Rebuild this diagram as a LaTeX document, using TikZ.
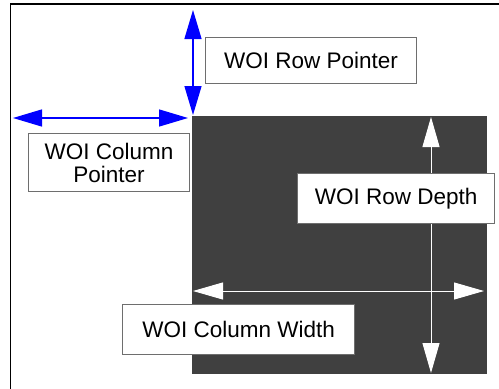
\documentclass[tikz,border=0pt]{standalone}
\usepackage{fontspec}
\setmainfont{Liberation Sans}
\usetikzlibrary{arrows.meta}
\definecolor{darkfill}{HTML}{404040}
\definecolor{boxedge}{HTML}{6E6E6E}
\begin{document}
\begin{tikzpicture}[x=1pt,y=-1pt,
  label box/.style={draw=boxedge, line width=1.1pt, fill=white, inner sep=0pt,
    font=\fontsize{22.5}{24}\selectfont, align=center, anchor=north west},
  bluearrow/.style={draw=blue, line width=1.3pt,
    {Triangle[length=29pt,width=17pt]}-{Triangle[length=29pt,width=17pt]}},
  whitearrow/.style={draw=white, line width=1pt,
    {Triangle[length=30pt,width=17pt]}-{Triangle[length=30pt,width=17pt]}}]
\useasboundingbox (0,0) rectangle (499,389);
\fill[white] (0,0) rectangle (499,389);
% frame
\draw[line width=1.3pt] (10.7,389) -- (10.7,4) -- (499,4);
% dark region
\fill[darkfill] (192,116) rectangle (487,374);
% coordinates
\coordinate (vtop) at (193,10);
\coordinate (vbot) at (193,115);
\coordinate (hleft) at (13,118);
\coordinate (hright) at (188,118);
\coordinate (wvtop) at (431,117);
\coordinate (wvbot) at (431,373);
\coordinate (whleft) at (193,291);
\coordinate (whright) at (484,291);
% arrows
\draw[bluearrow] (vtop) -- (vbot);
\draw[bluearrow] (hleft) -- (hright);
\draw[whitearrow] (wvtop) -- (wvbot);
\draw[whitearrow] (whleft) -- (whright);
% label boxes
\node[label box, minimum width=211pt, minimum height=46pt] (rowptr) at (205,37) {WOI Row Pointer};
\node[label box, minimum width=161pt, minimum height=58pt] (colptr) at (28,133) {WOI Column\\[-1pt]Pointer};
\node[label box, minimum width=197pt, minimum height=50pt] (rowdepth) at (297,173) {WOI Row Depth};
\node[label box, minimum width=232pt, minimum height=50pt] (colwidth) at (122,304) {WOI Column Width};
\end{tikzpicture}
\end{document}
